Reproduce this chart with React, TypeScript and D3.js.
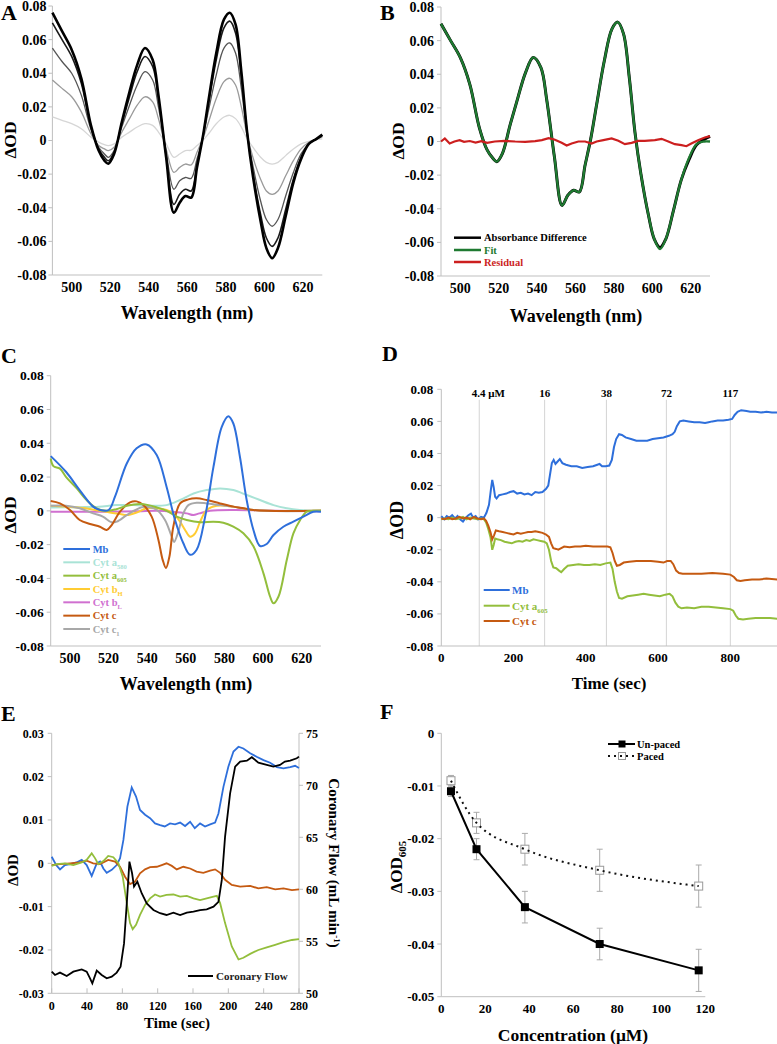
import React from 'react';
import * as d3 from 'd3';

// ---------------- DATA ----------------
// Panel A: difference spectra at increasing doses
const aWl = [490,495,500,505,510,514,517,519,522,526,530,534,538,542,545,549,553,556,559,562,565,568,571,575,579,582,585,588,591,594,598,601,604,607,611,615,619,623,627,630];
const aSpec117 = [0.076,0.065,0.054,0.037,0.009,-0.006,-0.012,-0.0138,-0.008,0.011,0.029,0.045,0.055,0.048,0.027,-0.010,-0.043,-0.037,-0.033,-0.034,-0.016,0.002,0.024,0.052,0.072,0.076,0.069,0.041,0.005,-0.021,-0.048,-0.064,-0.070,-0.064,-0.045,-0.025,-0.011,-0.002,0.001,0.0035];
const aSpec72 = [0.070,0.060,0.050,0.034,0.008,-0.005,-0.010,-0.012,-0.007,0.010,0.026,0.041,0.050,0.044,0.025,-0.009,-0.038,-0.032,-0.029,-0.030,-0.014,0.002,0.022,0.048,0.067,0.071,0.064,0.038,0.005,-0.019,-0.044,-0.058,-0.063,-0.058,-0.041,-0.023,-0.010,-0.002,0.001,0.003];
const aSpec38 = [0.055,0.047,0.040,0.027,0.0065,-0.004,-0.008,-0.010,-0.006,0.008,0.021,0.033,0.041,0.036,0.020,-0.007,-0.029,-0.024,-0.022,-0.0225,-0.011,0.0015,0.018,0.039,0.055,0.058,0.052,0.031,0.004,-0.015,-0.036,-0.047,-0.051,-0.047,-0.033,-0.019,-0.008,-0.002,0.001,0.003];
const aSpec16 = [0.036,0.031,0.026,0.017,0.004,-0.003,-0.005,-0.006,-0.004,0.005,0.013,0.021,0.026,0.023,0.013,-0.005,-0.019,-0.016,-0.014,-0.0145,-0.007,0.001,0.011,0.025,0.035,0.037,0.033,0.020,0.003,-0.010,-0.023,-0.030,-0.032,-0.030,-0.021,-0.012,-0.005,-0.001,0.001,0.002];
const aSpec4 = [0.014,0.012,0.010,0.007,0.002,-0.001,-0.0025,-0.003,-0.002,0.002,0.005,0.008,0.010,0.009,0.005,-0.002,-0.010,-0.008,-0.006,-0.0058,-0.003,0.000,0.004,0.010,0.014,0.015,0.013,0.008,0.001,-0.004,-0.010,-0.013,-0.014,-0.013,-0.009,-0.005,-0.002,-0.0005,0.0005,0.001];

// Panel B: measured, fit, residual
const bMeasured = [0.070,0.060,0.050,0.034,0.008,-0.005,-0.010,-0.012,-0.007,0.010,0.026,0.041,0.050,0.044,0.025,-0.009,-0.038,-0.032,-0.029,-0.030,-0.014,0.002,0.022,0.048,0.067,0.071,0.064,0.038,0.005,-0.019,-0.044,-0.058,-0.063,-0.058,-0.041,-0.023,-0.011,-0.002,0.0012,0.003];
const bFit = [0.070,0.060,0.050,0.034,0.008,-0.005,-0.010,-0.012,-0.007,0.010,0.026,0.041,0.050,0.044,0.025,-0.009,-0.038,-0.032,-0.029,-0.030,-0.014,0.002,0.022,0.048,0.067,0.071,0.064,0.038,0.005,-0.019,-0.044,-0.058,-0.064,-0.058,-0.041,-0.023,-0.010,-0.0015,0.000,0.000];
const bResWl = [490,492,494.5,497,499.7,502,505,508,511,514,518,523,528.6,533.8,539,542.5,546,549,552.8,555.4,558,561.5,565,568.4,571,574.5,578.8,582.3,585.7,589.2,592.6,596,601.3,604.8,608.3,611.7,615.2,617.7,620.3,623.8,627.3,630];
const bResidual = [0,0.0018,-0.0012,0,0.0008,-0.0002,0.0003,-0.0006,0.0002,-0.0008,0,0.0004,0,-0.0002,0.0002,0.0008,0.002,0.0012,-0.0008,-0.0024,-0.0012,0,0,-0.0012,0,0.0008,0.0018,0.0004,-0.0016,-0.0008,0.0004,0.0004,0.0008,0.0016,0,-0.0016,-0.0022,-0.0028,-0.0012,0.0008,0.0024,0.0032];

// Panel C: component spectra
const cMbWl = [490,498,505,512,515.5,520,523.3,529.4,534.5,539.7,544.9,550,554.4,558.7,562.2,565.6,570,574.3,578.6,582,584.6,588,591.5,595,598.4,601.9,605.4,610.5,615.7,620.9,626,630];
const cMb = [0.0324,0.023,0.0123,0.0025,0.0005,0.0005,0.0084,0.028,0.037,0.0393,0.033,0.0143,-0.0054,-0.0192,-0.026,-0.023,-0.0034,0.026,0.0497,0.056,0.0517,0.032,0.0064,-0.0113,-0.0208,-0.0196,-0.0143,-0.0094,-0.0064,-0.0034,-0.0005,-0.0005];
const cA605Wl = [490,491.4,494.8,498,503.5,508.6,513.8,519,524,529.4,536.3,540.6,545,550,555.3,560.4,567.4,574.3,579.4,584.6,589.8,595,600.2,603.6,605.4,608,612.3,615.7,619.2,622.6,626,630];
const cA605 = [0.031,0.0265,0.025,0.020,0.0133,0.0064,0.0015,0,0.001,0.003,0.004,0.0034,0.002,0,-0.0034,-0.0054,-0.0068,-0.0064,-0.007,-0.0094,-0.0133,-0.021,-0.037,-0.0507,-0.0547,-0.0507,-0.029,-0.0133,-0.0054,-0.0005,0,0];
const cCWl = [490,494.8,500,505,510.4,515.5,519,521.6,525.9,531.1,534.5,538,542.3,545.8,548,549.7,551.5,553.5,557,561.3,565.6,570.8,577.7,584.6,590,595,602,630];
const cC = [0.0058,0.0044,0.0005,-0.0054,-0.0078,-0.0094,-0.0113,-0.0084,-0.0005,0.005,0.0056,0.0034,-0.0034,-0.0172,-0.029,-0.0338,-0.027,-0.0094,0.0044,0.0068,0.0074,0.0064,0.0044,0.0025,0.0015,0.0005,0,0];
const cC1Wl = [490,498,505,512,517,521.6,524.2,529.4,534.5,539.7,545,549.2,552.7,553.9,556.1,558.7,561.3,565.6,570.8,577.7,584.6,591.5,602,630];
const cC1 = [0.003,0.003,0.0015,-0.0015,-0.0034,-0.0068,-0.0064,-0.0025,0.0009,0.0025,0.0005,-0.0054,-0.0153,-0.0184,-0.0123,-0.0015,0.0034,0.0048,0.0044,0.0034,0.0025,0.001,0,0];
const cBHWl = [490,498,508,515.5,520.7,526,529.4,534.5,539.7,545,550,553.5,557,559.6,562.2,564.8,567.4,570.8,576,584.6,591.5,602,630];
const cBH = [0.003,0.0025,0.0015,0,-0.001,-0.0019,-0.0025,-0.001,0.0015,0.0015,0.0005,-0.0015,-0.0064,-0.0113,-0.0153,-0.0133,-0.0064,0.0005,0.003,0.0025,0.0009,0,0];
const cBLWl = [490,515,535,545,553,560.4,563.9,567,572.5,585,600,630];
const cBL = [-0.0005,-0.0005,-0.0003,0,-0.0005,-0.0015,-0.0025,-0.0015,0,0.0005,0.0002,-0.0003];
const cA580Wl = [490,505,515,524,533,541,550,557,564,570.8,577.7,584.6,591.5,598.4,605.4,612.3,619,630];
const cA580 = [0.002,0.0022,0.0025,0.0034,0.0034,0.003,0.0034,0.0064,0.0103,0.0123,0.0133,0.0123,0.0094,0.0064,0.0034,0.0015,0.0005,0];

// Panel D: time course with dose additions
const dMbT = [0,8,15,22,30,38,45,52,60,68,75,82,88,95,102,110,118,125,132,137,141,145,149,153,160,170,180,190,200,210,220,230,240,250,260,270,280,290,296,301,306,311,316,322,328,335,345,360,375,390,405,420,432,438,445,455,465,472,478,484,492,500,510,525,540,555,570,585,600,615,630,640,646,652,660,670,685,700,715,730,740,750,765,780,795,805,812,820,830,845,855,870,885,900,915,930];
const dMb = [0.001,-0.001,0.001,0,0.0015,-0.0005,0.001,-0.001,-0.0025,0,0.0015,0.0025,0,0.001,-0.001,0.0005,0,0.003,0.008,0.017,0.0235,0.019,0.013,0.012,0.014,0.0145,0.015,0.016,0.0165,0.015,0.0155,0.0145,0.015,0.014,0.016,0.0155,0.016,0.018,0.02,0.027,0.034,0.036,0.0335,0.035,0.0365,0.034,0.033,0.032,0.032,0.031,0.0315,0.032,0.033,0.0335,0.032,0.032,0.0325,0.036,0.044,0.049,0.052,0.0515,0.05,0.049,0.048,0.048,0.048,0.049,0.0495,0.05,0.051,0.052,0.0535,0.057,0.06,0.0605,0.06,0.0595,0.0595,0.059,0.0595,0.06,0.0605,0.0605,0.061,0.0615,0.064,0.066,0.067,0.0665,0.066,0.066,0.0655,0.066,0.0655,0.0655];
const dA605T = [0,10,20,30,40,50,60,70,80,90,100,110,118,124,130,136,141,145,149,155,165,175,185,195,205,215,225,235,245,255,265,275,285,292,298,304,310,318,326,332,340,350,365,380,395,410,425,440,455,468,474,480,486,492,500,515,530,545,560,575,590,605,620,632,640,648,656,665,680,700,720,740,760,780,800,808,815,822,835,850,870,890,910,930];
const dA605 = [-0.001,-0.0005,-0.001,0,-0.001,-0.0005,0.0005,-0.001,0,-0.0005,-0.001,-0.0005,-0.001,-0.003,-0.007,-0.012,-0.02,-0.017,-0.013,-0.0135,-0.014,-0.015,-0.0155,-0.016,-0.015,-0.0145,-0.015,-0.014,-0.0145,-0.0135,-0.014,-0.0145,-0.015,-0.016,-0.02,-0.027,-0.031,-0.0315,-0.033,-0.034,-0.032,-0.03,-0.0295,-0.029,-0.0295,-0.0295,-0.029,-0.0295,-0.0285,-0.028,-0.032,-0.04,-0.046,-0.05,-0.0505,-0.049,-0.0485,-0.048,-0.0475,-0.048,-0.0485,-0.049,-0.048,-0.0475,-0.049,-0.053,-0.0555,-0.0565,-0.056,-0.0565,-0.0555,-0.0555,-0.056,-0.0565,-0.057,-0.058,-0.061,-0.063,-0.0635,-0.063,-0.0625,-0.0625,-0.0625,-0.063];
const dCT = [0,10,20,30,40,50,60,70,80,90,100,110,118,124,130,136,141,146,151,160,170,180,190,200,210,220,230,240,250,260,270,280,290,298,304,310,318,324,332,340,355,370,385,400,420,440,460,468,474,480,486,494,505,520,540,560,580,600,615,625,635,642,650,658,668,690,720,750,780,800,810,818,828,840,860,880,900,930];
const dC = [-0.0005,-0.001,0,-0.001,-0.0005,0.0005,-0.0005,0,-0.001,0.0005,-0.0005,-0.001,-0.0005,-0.002,-0.005,-0.009,-0.0135,-0.011,-0.008,-0.0085,-0.009,-0.0095,-0.01,-0.0105,-0.0095,-0.01,-0.0095,-0.009,-0.009,-0.0085,-0.009,-0.0095,-0.0105,-0.012,-0.016,-0.019,-0.0195,-0.02,-0.019,-0.018,-0.0185,-0.018,-0.018,-0.0175,-0.018,-0.018,-0.018,-0.0185,-0.022,-0.027,-0.03,-0.0295,-0.028,-0.0275,-0.027,-0.027,-0.027,-0.0275,-0.028,-0.027,-0.027,-0.029,-0.033,-0.0345,-0.035,-0.035,-0.035,-0.0345,-0.035,-0.0355,-0.037,-0.039,-0.0395,-0.039,-0.0385,-0.0385,-0.038,-0.0385];
const dDoseT = [105,286,457,623,800];
const dDoseLabels = ['4.4 \u03BCM','16','38','72','117'];

// Panel E: paced heart, with coronary flow
const eMbT = [0,5,9.4,15,21,28,34,39.6,45.3,51,54.7,58.5,62.3,68,73.6,77.4,81.2,85.7,90.6,95.5,100,105.7,111.4,117,122.7,128,134,139.7,145.4,151,156.7,162,168,173.6,179.4,185,188.8,194.5,200,205.8,211.5,217,224.7,232,239.8,247.3,254.9,262.4,270,275.6,280];
const eMb = [0.0015,-0.0004,-0.0014,-0.0004,-0.0002,0.0002,0.0008,-0.0004,-0.0029,0,0.0004,-0.0012,-0.0022,-0.0015,-0.0004,0.0012,0.0054,0.0131,0.0175,0.0154,0.0123,0.0112,0.0104,0.0092,0.0088,0.0085,0.0092,0.009,0.0094,0.0086,0.0096,0.0081,0.0092,0.0085,0.009,0.0094,0.0115,0.0177,0.0223,0.0258,0.0269,0.0265,0.0254,0.0246,0.0238,0.0232,0.0222,0.0219,0.0222,0.0225,0.022];
const eA605T = [0,5.6,15,24.5,34,39.6,45.3,49,52.8,58.5,64,69.8,75.5,80.4,85,88.7,91.7,95.5,100,105.7,111.4,117,122.7,130,137.8,145.4,153,160.5,168,175.5,183.2,187,190.7,196.3,203.9,211.5,217,224.7,234,243.5,253,262.4,272,280];
const eA605 = [-0.0006,-0.0002,0,-0.0004,0.0002,0.0008,0.0023,0.0012,-0.0002,0.0005,0.0017,0.0014,0,-0.0031,-0.0092,-0.0138,-0.0152,-0.0142,-0.0119,-0.0096,-0.0081,-0.0072,-0.0077,-0.0073,-0.0072,-0.0077,-0.0075,-0.0081,-0.0085,-0.0081,-0.0077,-0.0075,-0.0092,-0.0138,-0.0192,-0.0222,-0.0218,-0.0209,-0.02,-0.0194,-0.0188,-0.0182,-0.0177,-0.0175];
const eCT = [0,9.4,20.7,32,39.6,47,54.7,64,71.7,77.4,83,88.7,94.4,100,105.7,111.4,119,124.6,130,136,141.6,149,156.7,164,171.7,179.4,185,190.7,196.3,203.9,213.4,224.7,234,243.5,253,262.4,272,280];
const eC = [-0.0004,-0.0002,0,0.0002,0.0006,0,-0.0002,0.0008,0.0004,-0.0008,-0.0031,-0.0048,-0.0042,-0.0023,-0.0014,-0.0009,-0.0008,-0.0004,0,-0.0006,-0.0014,-0.0008,-0.0012,-0.0019,-0.0022,-0.0017,-0.0014,-0.0022,-0.0038,-0.005,-0.0054,-0.0052,-0.0058,-0.0055,-0.006,-0.0058,-0.0062,-0.006];
const eFlowT = [0,3.7,9.4,17,24.5,34,39.6,43.4,46,51,56.6,62.3,68,73.6,78,81.9,85,88,91,93.2,97,102,107.6,115.2,122.7,130,137.8,145.4,153,160.5,168,175.5,183.2,188.8,192.6,196.3,202,207.7,213.4,221,226.6,234,243.5,251,258.5,264,270,277.5,280];
const eFlow = [52.08,51.76,51.99,51.67,52.08,52.3,52.08,51.44,50.96,52.18,51.76,51.44,51.6,51.99,52.56,54.8,58.65,62.66,61.54,60.26,60.74,59.6,58.65,58.01,57.7,57.53,57.76,57.53,57.76,57.85,58.0,58.07,58.33,58.8,60.9,65.06,69.23,71.8,72.28,72.37,72.7,72.18,71.96,71.8,71.96,72.28,72.37,72.6,72.76];

// Panel F: dose response
const fConc = [4.4,16,38,72,117];
const fUnpaced = [-0.011,-0.022,-0.033,-0.040,-0.045];
const fUnpacedErr = [0.001,0.002,0.003,0.003,0.004];
const fPaced = [-0.009,-0.017,-0.022,-0.026,-0.029];
const fPacedErr = [0.001,0.002,0.003,0.004,0.004];

// Tick values
const specXTicks = [500,520,540,560,580,600,620];
const odTicks = [-0.08,-0.06,-0.04,-0.02,0,0.02,0.04,0.06,0.08];
const dXTicks = [0,200,400,600,800];
const eXTicks = [0,40,80,120,160,200,240,280];
const eYTicks = [-0.03,-0.02,-0.01,0,0.01,0.02,0.03];
const eFlowTicks = [50,55,60,65,70,75];
const fXTicks = [0,20,40,60,80,100,120];
const fYTicks = [-0.05,-0.04,-0.03,-0.02,-0.01,0];

// ---------------- STYLE ----------------
const FONT = "'Liberation Serif','Times New Roman',Times,serif";
const AX = '#bfbfbf';
const BLUE = '#2E6FDB';
const LIME = '#93BE3C';
const ORANGE = '#C55A11';
const YELLOW = '#FFCC33';
const PINK = '#D070D0';
const GRAY = '#A8A8A8';
const CYAN = '#A9E3D6';
const GREEN = '#1F7A31';
const RED = '#CC1F1F';

type Sc = d3.ScaleLinear<number, number>;

const fmt2 = (v: number) => (Math.abs(v) < 1e-9 ? '0' : v.toFixed(2));

function pathOf(xs: number[], ys: number[], x: Sc, y: Sc, curve: any = d3.curveLinear) {
  const pts = xs.map((v, i) => [v, ys[i]] as [number, number]);
  return d3.line<[number, number]>().x(d => x(d[0])).y(d => y(d[1])).curve(curve)(pts) || '';
}

function YAxis({ y, x, ticks, fs, gap = 7, fmt = fmt2, right = false }: any) {
  const d = y.domain();
  return (
    <g>
      <line x1={x} x2={x} y1={y(d[0])} y2={y(d[1])} stroke={AX} strokeWidth={1} />
      {ticks.map((t: number) => (
        <g key={t}>
          <line x1={right ? x : x - 4} x2={right ? x + 4 : x} y1={y(t)} y2={y(t)} stroke={AX} />
          <text x={right ? x + gap : x - gap} y={y(t)} dy="0.35em" textAnchor={right ? 'start' : 'end'}
            fontSize={fs} fontWeight="bold" fontFamily={FONT}>{fmt(t)}</text>
        </g>
      ))}
    </g>
  );
}

function XAxis({ x, y, ticks, fs, off = 12, inner = false }: any) {
  const d = x.range();
  return (
    <g>
      <line x1={d[0]} x2={d[1]} y1={y} y2={y} stroke={AX} strokeWidth={1} />
      {ticks.map((t: number) => (
        <g key={t}>
          {inner && <line x1={x(t)} x2={x(t)} y1={y} y2={y - 5} stroke={AX} />}
          <text x={x(t)} y={y + off} dy="0.35em" textAnchor="middle" fontSize={fs} fontWeight="bold" fontFamily={FONT}>{t}</text>
        </g>
      ))}
    </g>
  );
}

function Title({ x, y, text, fs = 18 }: any) {
  return <text x={x} y={y} textAnchor="middle" fontSize={fs} fontWeight="bold" fontFamily={FONT}>{text}</text>;
}

function VLabel({ x, y, fs = 18, children, rot = -90 }: any) {
  return (
    <text transform={`translate(${x},${y}) rotate(${rot})`} textAnchor="middle" fontSize={fs} fontWeight="bold" fontFamily={FONT}>
      {children}
    </text>
  );
}

function Letter({ x, y, t }: any) {
  return <text x={x} y={y} fontSize={22} fontWeight="bold" fontFamily={FONT}>{t}</text>;
}

function LegendItem({ x1, x2, y, color, label, sub, fs = 10.5, tx, width = 2.5, textColor }: any) {
  return (
    <g>
      <line x1={x1} x2={x2} y1={y} y2={y} stroke={color} strokeWidth={width} />
      <text x={tx} y={y} dy="0.35em" fontSize={fs} fontWeight="bold" fontFamily={FONT} fill={textColor || color}>
        {label}
        {sub && <tspan dy={3} fontSize={fs * 0.62}>{sub}</tspan>}
      </text>
    </g>
  );
}

export default function App() {
  // Panel A
  const ax = d3.scaleLinear().domain([490, 630]).range([52.4, 322.3]);
  const ay = d3.scaleLinear().domain([-0.08, 0.08]).range([275, 6]);
  // Panel B
  const bx = d3.scaleLinear().domain([490, 630]).range([441, 710]);
  const by = d3.scaleLinear().domain([-0.08, 0.08]).range([276, 7]);
  // Panel C
  const cx = d3.scaleLinear().domain([490, 630]).range([50.7, 321]);
  const cy = d3.scaleLinear().domain([-0.08, 0.08]).range([646, 375.7]);
  // Panel D
  const dx = d3.scaleLinear().domain([0, 930]).range([441.3, 777.3]);
  const dy = d3.scaleLinear().domain([-0.08, 0.08]).range([646, 389.3]);
  // Panel E
  const ex = d3.scaleLinear().domain([0, 280]).range([51.7, 299]);
  const ey = d3.scaleLinear().domain([-0.03, 0.03]).range([993.3, 733.3]);
  const ey2 = d3.scaleLinear().domain([50, 75]).range([993.3, 733.3]);
  // Panel F
  const fx = d3.scaleLinear().domain([0, 120]).range([441.3, 705.3]);
  const fy = d3.scaleLinear().domain([-0.05, 0]).range([996.7, 733.3]);

  const smooth = d3.curveCatmullRom.alpha(0.5);

  const aSeries = [
    { v: aSpec4, c: '#d6d6d6', w: 1.3 },
    { v: aSpec16, c: '#9a9a9a', w: 1.3 },
    { v: aSpec38, c: '#555555', w: 1.3 },
    { v: aSpec72, c: '#1a1a1a', w: 1.6 },
    { v: aSpec117, c: '#000000', w: 2.6 },
  ];

  const cSeries = [
    { xs: cA580Wl, v: cA580, c: CYAN },
    { xs: cBLWl, v: cBL, c: PINK },
    { xs: cBHWl, v: cBH, c: YELLOW },
    { xs: cC1Wl, v: cC1, c: GRAY },
    { xs: cCWl, v: cC, c: ORANGE },
    { xs: cA605Wl, v: cA605, c: LIME },
    { xs: cMbWl, v: cMb, c: BLUE },
  ];
  const cLegend = [
    { c: BLUE, l: 'Mb', s: '' },
    { c: CYAN, l: 'Cyt a', s: '580' },
    { c: LIME, l: 'Cyt a', s: '605' },
    { c: YELLOW, l: 'Cyt b', s: 'H' },
    { c: PINK, l: 'Cyt b', s: 'L' },
    { c: ORANGE, l: 'Cyt c', s: '' },
    { c: GRAY, l: 'Cyt c', s: '1' },
  ];

  return (
    <svg width={777} height={1044} style={{ position: 'absolute', left: 0, top: 0, background: '#fff' }}>
      <rect width={777} height={1044} fill="#fff" />

      {/* ---------- Panel A ---------- */}
      <Letter x={1} y={20} t="A" />
      <YAxis y={ay} x={52.4} ticks={odTicks} fs={14} gap={6} />
      <XAxis x={ax} y={275} ticks={specXTicks} fs={14} />
      {aSeries.map((s, i) => (
        <path key={i} d={pathOf(aWl, s.v, ax, ay, smooth)} fill="none" stroke={s.c} strokeWidth={s.w} />
      ))}
      <Title x={187} y={319} text="Wavelength (nm)" />
      <VLabel x={16} y={140} fs={17.5}>ΔOD</VLabel>

      {/* ---------- Panel B ---------- */}
      <Letter x={380} y={20} t="B" />
      <YAxis y={by} x={441} ticks={odTicks} fs={14} gap={7} />
      <XAxis x={bx} y={276} ticks={specXTicks} fs={14} />
      <path d={pathOf(aWl, bMeasured, bx, by, smooth)} fill="none" stroke="#000" strokeWidth={3} />
      <path d={pathOf(aWl, bFit, bx, by, smooth)} fill="none" stroke={GREEN} strokeWidth={2.3} />
      <path d={pathOf(bResWl, bResidual, bx, by)} fill="none" stroke={RED} strokeWidth={2.2} />
      <LegendItem x1={454} x2={481} y={237.7} tx={484} color="#000" label="Absorbance Difference" />
      <LegendItem x1={454} x2={481} y={250} tx={484} color={GREEN} label="Fit" />
      <LegendItem x1={454} x2={481} y={262} tx={484} color={RED} label="Residual" />
      <Title x={576} y={322} text="Wavelength (nm)" />
      <VLabel x={404} y={141} fs={17.5}>ΔOD</VLabel>

      {/* ---------- Panel C ---------- */}
      <Letter x={1} y={363} t="C" />
      <YAxis y={cy} x={50.7} ticks={odTicks} fs={13.5} gap={7} />
      <XAxis x={cx} y={646} ticks={specXTicks} fs={14} />
      {cSeries.map((s, i) => (
        <path key={i} d={pathOf(s.xs, s.v, cx, cy, smooth)} fill="none" stroke={s.c} strokeWidth={2} />
      ))}
      {cLegend.map((l, i) => (
        <LegendItem key={i} x1={63.3} x2={90} y={549 + i * 13.33} tx={92.7} color={l.c} label={l.l} sub={l.s} fs={10.5} width={2} />
      ))}
      <Title x={186} y={690} text="Wavelength (nm)" />
      <VLabel x={16} y={515} fs={17.5}>ΔOD</VLabel>

      {/* ---------- Panel D ---------- */}
      <Letter x={382} y={361} t="D" />
      {dDoseT.map((t, i) => (
        <g key={i}>
          <line x1={dx(t)} x2={dx(t)} y1={dy(0.0735)} y2={dy(-0.08)} stroke="#d4d4d4" strokeWidth={1} />
          <text x={dx(t) + (i === 0 ? 9 : 0)} y={dy(0.0775)} dy="0.35em" textAnchor="middle" fontSize={11} fontWeight="bold" fontFamily={FONT}>{dDoseLabels[i]}</text>
        </g>
      ))}
      <YAxis y={dy} x={441.3} ticks={odTicks} fs={13} gap={8} />
      <XAxis x={dx} y={646} ticks={dXTicks} fs={13} off={11} />
      <path d={pathOf(dMbT, dMb, dx, dy)} fill="none" stroke={BLUE} strokeWidth={2} />
      <path d={pathOf(dA605T, dA605, dx, dy)} fill="none" stroke={LIME} strokeWidth={2} />
      <path d={pathOf(dCT, dC, dx, dy)} fill="none" stroke={ORANGE} strokeWidth={2} />
      <LegendItem x1={483.7} x2={509.7} y={590} tx={512} color={BLUE} label="Mb" fs={11} width={2} />
      <LegendItem x1={483.7} x2={509.7} y={605.7} tx={512} color={LIME} label="Cyt a" sub="605" fs={11} width={2} />
      <LegendItem x1={483.7} x2={509.7} y={621} tx={512} color={ORANGE} label="Cyt c" fs={11} width={2} />
      <Title x={609} y={689} text="Time (sec)" fs={17} />
      <VLabel x={403} y={520}>ΔOD</VLabel>

      {/* ---------- Panel E ---------- */}
      <Letter x={1} y={721} t="E" />
      <YAxis y={ey} x={51.7} ticks={eYTicks} fs={12} gap={8} />
      <YAxis y={ey2} x={299} ticks={eFlowTicks} fs={12} gap={7} right fmt={(v: number) => String(v)} />
      <XAxis x={ex} y={993.3} ticks={eXTicks} fs={12} off={12} inner />
      <path d={pathOf(eMbT, eMb, ex, ey)} fill="none" stroke={BLUE} strokeWidth={1.8} />
      <path d={pathOf(eCT, eC, ex, ey)} fill="none" stroke={ORANGE} strokeWidth={1.8} />
      <path d={pathOf(eA605T, eA605, ex, ey)} fill="none" stroke={LIME} strokeWidth={1.8} />
      <path d={pathOf(eFlowT, eFlow, ex, ey2)} fill="none" stroke="#000" strokeWidth={1.8} />
      <LegendItem x1={188} x2={213} y={976} tx={216} color="#000" label="Coronary Flow" textColor="#222" fs={11} width={2} />
      <Title x={177} y={1028} text="Time (sec)" fs={15} />
      <VLabel x={18} y={870} fs={15}>ΔOD</VLabel>
      <VLabel x={329} y={863} fs={15} rot={90}>
        Coronary Flow (mL min<tspan dy={-5} fontSize={9}>-1</tspan><tspan dy={5}>)</tspan>
      </VLabel>

      {/* ---------- Panel F ---------- */}
      <Letter x={380} y={719} t="F" />
      <YAxis y={fy} x={441.3} ticks={fYTicks} fs={13} gap={7} />
      <XAxis x={fx} y={996.7} ticks={fXTicks} fs={13} off={11.5} />
      {fConc.map((c, i) => (
        <g key={'pe' + i}>
          <line x1={fx(c)} x2={fx(c)} y1={fy(fPaced[i] - fPacedErr[i])} y2={fy(fPaced[i] + fPacedErr[i])} stroke="#aaa" />
          <line x1={fx(c) - 3} x2={fx(c) + 3} y1={fy(fPaced[i] - fPacedErr[i])} y2={fy(fPaced[i] - fPacedErr[i])} stroke="#aaa" />
          <line x1={fx(c) - 3} x2={fx(c) + 3} y1={fy(fPaced[i] + fPacedErr[i])} y2={fy(fPaced[i] + fPacedErr[i])} stroke="#aaa" />
          <line x1={fx(c)} x2={fx(c)} y1={fy(fUnpaced[i] - fUnpacedErr[i])} y2={fy(fUnpaced[i] + fUnpacedErr[i])} stroke="#aaa" />
          <line x1={fx(c) - 3} x2={fx(c) + 3} y1={fy(fUnpaced[i] - fUnpacedErr[i])} y2={fy(fUnpaced[i] - fUnpacedErr[i])} stroke="#aaa" />
          <line x1={fx(c) - 3} x2={fx(c) + 3} y1={fy(fUnpaced[i] + fUnpacedErr[i])} y2={fy(fUnpaced[i] + fUnpacedErr[i])} stroke="#aaa" />
        </g>
      ))}
      <path d={pathOf(fConc, fUnpaced, fx, fy)} fill="none" stroke="#000" strokeWidth={2} />
      {fConc.map((c, i) => (
        <rect key={'pm' + i} x={fx(c) - 4} y={fy(fPaced[i]) - 4} width={8} height={8} fill="#fff" stroke="#999" strokeWidth={1} />
      ))}
      <path d={pathOf(fConc, fPaced, fx, fy, d3.curveMonotoneX)} fill="none" stroke="#111" strokeWidth={2} strokeDasharray="2,4" />
      {fConc.map((c, i) => (
        <rect key={'um' + i} x={fx(c) - 4} y={fy(fUnpaced[i]) - 4} width={8} height={8} fill="#000" />
      ))}
      <g>
        <line x1={608} x2={635} y1={744} y2={744} stroke="#000" strokeWidth={2} />
        <rect x={618.5} y={740.5} width={7} height={7} fill="#000" />
        <text x={637} y={744} dy="0.35em" fontSize={10.5} fontWeight="bold" fontFamily={FONT}>Un-paced</text>
        <rect x={618.5} y={752.5} width={7} height={7} fill="#fff" stroke="#999" />
        <line x1={608} x2={635} y1={756} y2={756} stroke="#111" strokeWidth={2} strokeDasharray="2,4" />
        <text x={637} y={756} dy="0.35em" fontSize={10.5} fontWeight="bold" fontFamily={FONT}>Paced</text>
      </g>
      <Title x={573} y={1041} text="Concentration (μM)" fs={17.5} />
      <VLabel x={402} y={867} fs={17}>
        ΔOD<tspan dy={4} fontSize={11}>605</tspan>
      </VLabel>
    </svg>
  );
}
